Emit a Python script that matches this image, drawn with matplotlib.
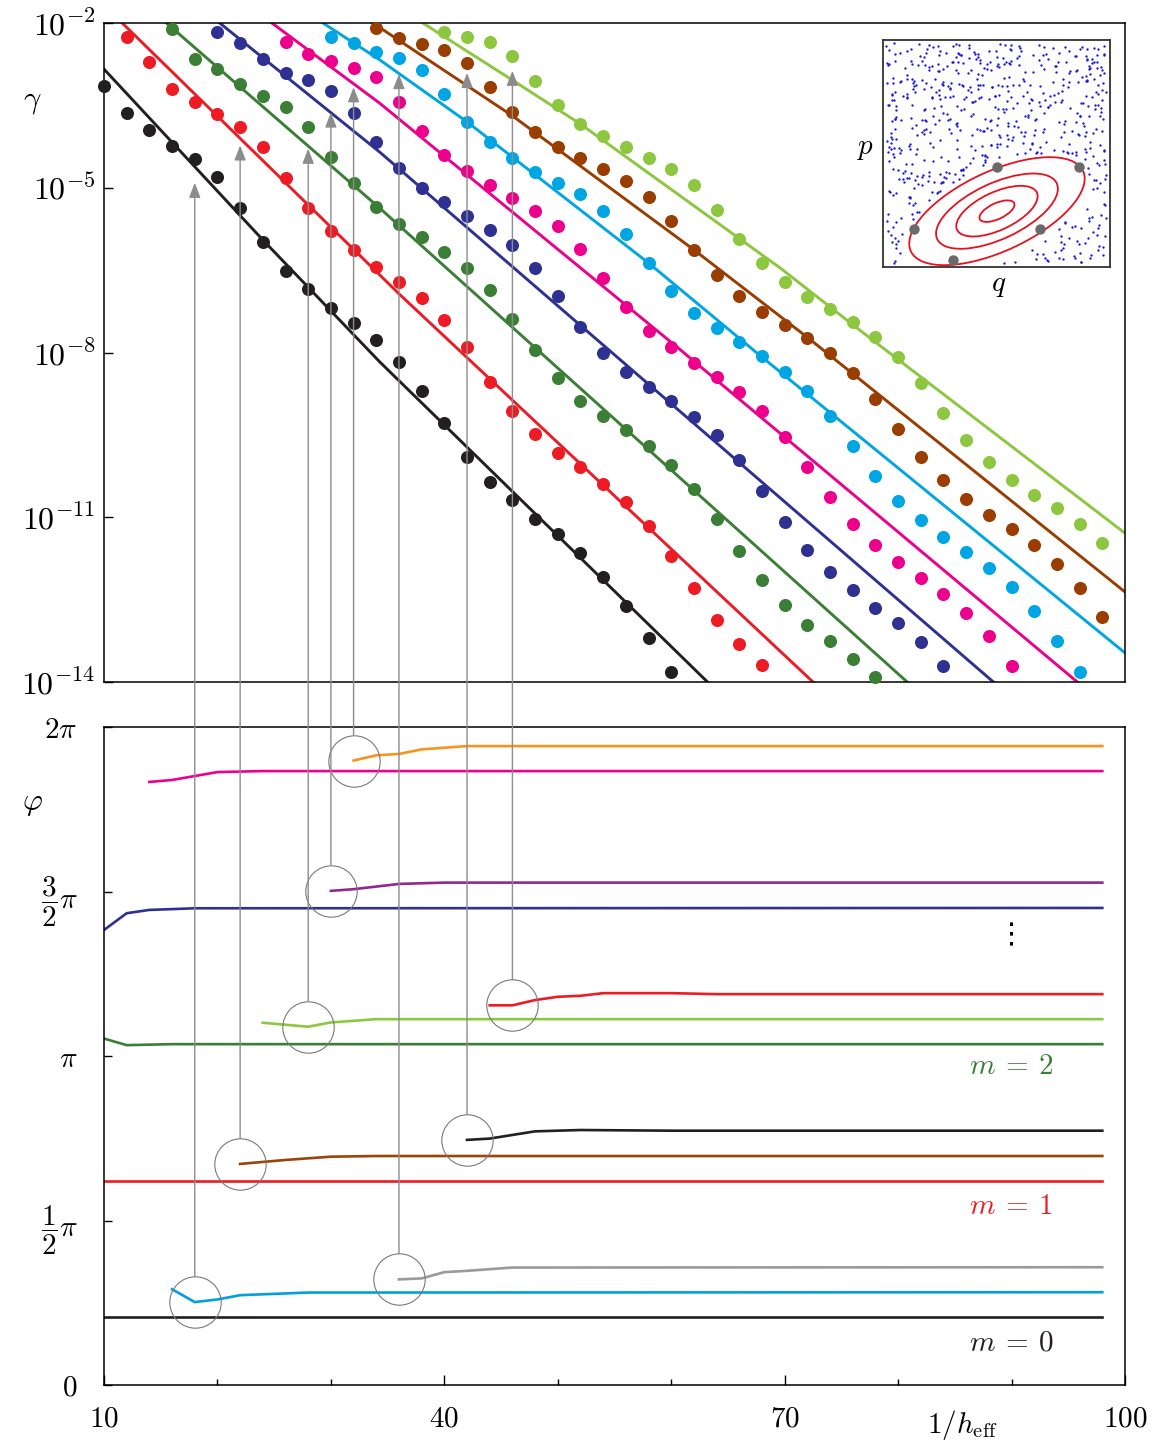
"""
Decay rates gamma and phases phi of the tunnelling states vs 1/h_eff.
Top: log-scale gamma (dots = numerics, lines = prediction) with a phase-space inset.
Bottom: phase phi of each family, arrows linking the onset of a branch to its rate curve.
"""

import numpy as np
import matplotlib
matplotlib.use("Agg")
import matplotlib.pyplot as plt
from matplotlib.patches import Ellipse, ConnectionPatch

plt.rcParams["mathtext.fontset"] = "cm"
plt.rcParams["font.family"] = "serif"
plt.rcParams["font.serif"] = ["DejaVu Serif"]

FS = 21

# --------------------------------------------------------------------------
# Top panel data: log10(gamma) of the dots, every 2 units of 1/h_eff
# --------------------------------------------------------------------------
DOT_X_BLACK = np.arange(10, 61, 2)
GAMMA_BLACK = [-3.15, -3.64, -3.95, -4.24, -4.48, -4.80, -5.37, -5.99, -6.52, -6.84,
               -7.19, -7.46, -7.77, -8.17, -8.70, -9.28, -9.90, -10.36, -10.69, -11.03,
               -11.30, -11.65, -12.09, -12.62, -13.20, -13.82]
DOT_X_RED = np.arange(12, 69, 2)
GAMMA_RED = [-2.25, -2.71, -3.20, -3.44, -3.66, -3.89, -4.26, -4.82, -5.37, -5.79,
             -6.13, -6.44, -6.72, -7.01, -7.41, -7.90, -8.54, -9.07, -9.48, -9.83,
             -10.08, -10.39, -10.72, -11.16, -11.71, -12.29, -12.87, -13.31, -13.69]
DOT_X_GREEN = np.arange(16, 79, 2)
GAMMA_GREEN = [-2.11, -2.66, -2.84, -3.11, -3.33, -3.53, -3.89, -4.44, -4.91, -5.35,
               -5.66, -5.90, -6.17, -6.46, -6.86, -7.39, -7.95, -8.46, -8.88, -9.16,
               -9.41, -9.70, -10.05, -10.49, -11.03, -11.61, -12.14, -12.60, -12.96,
               -13.25, -13.58, -13.91]
DOT_X_NAVY = np.arange(20, 85, 2)
GAMMA_NAVY = [-2.16, -2.36, -2.66, -2.91, -3.04, -3.24, -3.64, -4.17, -4.64, -5.00,
              -5.26, -5.51, -5.77, -6.04, -6.46, -6.97, -7.54, -8.01, -8.35, -8.63,
              -8.88, -9.17, -9.50, -9.96, -10.52, -11.09, -11.60, -12.00, -12.32,
              -12.65, -12.93, -13.27, -13.71]
DOT_X_MAGENTA = np.arange(26, 91, 2)
GAMMA_MAGENTA = [-2.35, -2.56, -2.69, -2.82, -2.98, -3.44, -3.97, -4.40, -4.69, -4.95,
                 -5.19, -5.42, -5.70, -6.12, -6.64, -7.17, -7.61, -7.90, -8.19, -8.45,
                 -8.72, -9.07, -9.54, -10.08, -10.63, -11.12, -11.50, -11.81, -12.11,
                 -12.40, -12.74, -13.16, -13.71]
DOT_X_CYAN = np.arange(30, 97, 2)
GAMMA_CYAN = [-2.25, -2.36, -2.53, -2.64, -2.86, -3.29, -3.80, -4.17, -4.46, -4.71,
              -4.91, -5.11, -5.42, -5.84, -6.37, -6.88, -7.28, -7.55, -7.81, -8.06,
              -8.35, -8.70, -9.16, -9.70, -10.25, -10.70, -11.05, -11.36, -11.63,
              -11.92, -12.27, -12.71, -13.25, -13.82]
DOT_X_BROWN = np.arange(34, 99, 2)
GAMMA_BROWN = [-2.09, -2.27, -2.38, -2.49, -2.73, -3.17, -3.62, -3.98, -4.26, -4.46,
               -4.66, -4.88, -5.17, -5.61, -6.13, -6.59, -6.97, -7.26, -7.50, -7.74,
               -8.01, -8.37, -8.85, -9.39, -9.90, -10.32, -10.67, -10.96, -11.21,
               -11.50, -11.85, -12.29, -12.82]
DOT_X_LIME = np.arange(40, 99, 2)
GAMMA_LIME = [-2.16, -2.25, -2.35, -2.60, -3.06, -3.49, -3.84, -4.06, -4.26, -4.46,
              -4.66, -4.95, -5.40, -5.93, -6.37, -6.72, -6.99, -7.21, -7.44, -7.72,
              -8.08, -8.56, -9.10, -9.59, -9.99, -10.32, -10.59, -10.83, -11.12, -11.47]

# prediction curves (knots, log10 gamma)
LINE_X_BLACK = [10.0, 24.0, 34.3, 63.2]
LINE_BLACK = [-2.84, -5.95, -8.17, -14.0]
LINE_X_RED = [11.6, 36.1, 72.5]
LINE_RED = [-2.0, -6.95, -14.0]
LINE_X_GREEN = [15.5, 34.3, 80.8]
LINE_GREEN = [-2.0, -5.37, -14.0]
LINE_X_NAVY = [20.2, 34.3, 88.4]
LINE_NAVY = [-2.0, -4.35, -14.0]
LINE_X_MAGENTA = [24.8, 34.3, 60.8, 95.8]
LINE_MAGENTA = [-2.0, -3.46, -7.95, -14.0]
LINE_X_CYAN = [29.3, 34.3, 42.0, 58.0, 67.8, 100.0]
LINE_CYAN = [-2.0, -2.67, -3.80, -6.37, -8.05, -13.47]
LINE_X_BROWN = [33.7, 46.0, 62.0, 72.1, 100.0]
LINE_BROWN = [-2.0, -3.69, -6.13, -7.74, -12.36]
LINE_X_LIME = [38.1, 46.0, 52.0, 69.6, 76.6, 100.0]
LINE_LIME = [-2.0, -3.04, -3.84, -6.46, -7.59, -11.29]

TOP_COLORS = ["#231f20", "#ed1c24", "#3a7f35", "#2e3192",
              "#ec008c", "#00a5e3", "#993d00", "#8dc63f"]

# --------------------------------------------------------------------------
# Bottom panel data: phi / pi
# --------------------------------------------------------------------------
PHI_X_M0 = [10, 98]
PHI_M0 = [0.206, 0.206]
PHI_X_CYAN = [16, 18, 20, 22, 28, 98]
PHI_CYAN = [0.291, 0.252, 0.260, 0.273, 0.281, 0.282]
PHI_X_GRAY = [36, 38, 40, 42, 46, 98]
PHI_GRAY = [0.321, 0.324, 0.343, 0.347, 0.357, 0.358]
PHI_X_M1 = [10, 98]
PHI_M1 = [0.620, 0.620]
PHI_X_BROWN = [22, 26, 30, 34, 98]
PHI_BROWN = [0.672, 0.684, 0.694, 0.696, 0.696]
PHI_X_BLACK2 = [42, 44, 48, 52, 60, 98]
PHI_BLACK2 = [0.745, 0.749, 0.771, 0.775, 0.773, 0.773]
PHI_X_M2 = [10, 12, 16, 98]
PHI_M2 = [1.053, 1.033, 1.036, 1.036]
PHI_X_LIME = [24, 28, 30, 34, 98]
PHI_LIME = [1.101, 1.089, 1.102, 1.112, 1.112]
PHI_X_RED2 = [44, 46, 48, 50, 52, 54, 60, 64, 98]
PHI_RED2 = [1.154, 1.154, 1.170, 1.180, 1.183, 1.191, 1.191, 1.188, 1.188]
PHI_X_NAVY = [10, 12, 14, 18, 98]
PHI_NAVY = [1.383, 1.434, 1.444, 1.449, 1.450]
PHI_X_PURPLE = [30, 32, 36, 40, 98]
PHI_PURPLE = [1.502, 1.507, 1.523, 1.527, 1.527]
PHI_X_MAGENTA = [14, 16, 20, 24, 98]
PHI_MAGENTA = [1.833, 1.839, 1.863, 1.866, 1.866]
PHI_X_ORANGE = [32, 34, 36, 38, 42, 98]
PHI_ORANGE = [1.898, 1.914, 1.918, 1.932, 1.942, 1.942]

# arrows: x, phi/pi at the circle, log10 gamma at the tip
ARROW_X = [18, 22, 28, 30, 32, 36, 42, 46]
ARROW_PHI = [0.252, 0.672, 1.089, 1.502, 1.898, 0.321, 0.745, 1.154]
ARROW_TIP = [-4.91, -4.23, -4.29, -3.63, -3.17, -2.93, -2.91, -2.87]

# inset: regular island (ellipses) and the gray periodic-orbit points
ISLAND_CENTER = (0.502, 0.246)
ISLAND_WIDTH = [0.837, 0.581, 0.388, 0.167]
ISLAND_HEIGHT = [0.351, 0.246, 0.167, 0.070]
ISLAND_ANGLE = 25
ORBIT_Q = [0.502, 0.863, 0.137, 0.692, 0.308]
ORBIT_P = [0.439, 0.439, 0.167, 0.167, 0.031]

W, H = 1153, 1443


def frac_box(x0, y0, x1, y1):
    """Pixel box (top-left origin) -> figure fraction rect."""
    return [x0 / W, 1 - y1 / H, (x1 - x0) / W, (y1 - y0) / H]


def chaotic_sea(n, k=6.0, q=0.31, p=0.71):
    """Orbit of the standard map, folded into the unit square."""
    pts = np.empty((n, 2))
    for i in range(n):
        p = (p + k * np.sin(2 * np.pi * q) / (2 * np.pi)) % 1.0
        q = (q + p) % 1.0
        pts[i] = q, p
    return pts


def style_spines(ax):
    for s in ax.spines.values():
        s.set_linewidth(1.1)
        s.set_color("black")


fig = plt.figure(figsize=(W / 100, H / 100), dpi=100)

# ---------------- top panel ----------------
ax = fig.add_axes(frac_box(104, 23, 1125, 682))
ax.set_yscale("log")
dots = [(DOT_X_BLACK, GAMMA_BLACK), (DOT_X_RED, GAMMA_RED), (DOT_X_GREEN, GAMMA_GREEN),
        (DOT_X_NAVY, GAMMA_NAVY), (DOT_X_MAGENTA, GAMMA_MAGENTA), (DOT_X_CYAN, GAMMA_CYAN),
        (DOT_X_BROWN, GAMMA_BROWN), (DOT_X_LIME, GAMMA_LIME)]
lines = [(LINE_X_BLACK, LINE_BLACK), (LINE_X_RED, LINE_RED), (LINE_X_GREEN, LINE_GREEN),
         (LINE_X_NAVY, LINE_NAVY), (LINE_X_MAGENTA, LINE_MAGENTA), (LINE_X_CYAN, LINE_CYAN),
         (LINE_X_BROWN, LINE_BROWN), (LINE_X_LIME, LINE_LIME)]
for (dx, dg), (lx, lg), col in zip(dots, lines, TOP_COLORS):
    ax.plot(lx, 10.0 ** np.asarray(lg), color=col, lw=2.1, zorder=2)
    ax.plot(dx, 10.0 ** np.asarray(dg), "o", color=col, ms=9.4, mew=0,
            zorder=3, clip_on=False)
ax.set_xlim(10, 100)
ax.set_ylim(1e-14, 1e-2)
ax.set_yticks([1e-2, 1e-5, 1e-8, 1e-11, 1e-14])
ax.set_yticklabels([r"$10^{-2}$", r"$10^{-5}$", r"$10^{-8}$", r"$10^{-11}$", r"$10^{-14}$"])
ax.yaxis.set_minor_locator(matplotlib.ticker.NullLocator())
ax.tick_params(axis="y", direction="in", length=6.5, width=1.0, labelsize=FS + 2, pad=6)
ax.tick_params(axis="x", length=0, labelbottom=False)
ax.xaxis.set_minor_locator(matplotlib.ticker.NullLocator())
style_spines(ax)
ax_top = ax

# inset
ins = fig.add_axes(frac_box(883, 40, 1110, 267))
sea = chaotic_sea(820)
sea = 0.015 + 0.97 * sea
cx, cy = ISLAND_CENTER
th = np.deg2rad(ISLAND_ANGLE)
u = (sea[:, 0] - cx) * np.cos(th) + (sea[:, 1] - cy) * np.sin(th)
v = -(sea[:, 0] - cx) * np.sin(th) + (sea[:, 1] - cy) * np.cos(th)
outside = (u / (ISLAND_WIDTH[0] / 2 + 0.02)) ** 2 + (v / (ISLAND_HEIGHT[0] / 2 + 0.02)) ** 2 > 1
ins.plot(sea[outside, 0], sea[outside, 1], ".", color="#1a1ad6", ms=3.4, mew=0)
for w, h in zip(ISLAND_WIDTH, ISLAND_HEIGHT):
    ins.add_patch(Ellipse(ISLAND_CENTER, w, h, angle=ISLAND_ANGLE, fill=False,
                          ec="#e8101e", lw=1.3))
ins.plot(ORBIT_Q, ORBIT_P, "o", color="#6a6a6a", ms=7.5, mew=0, zorder=4)
ins.set_xlim(0, 1)
ins.set_ylim(0, 1)
ins.set_xticks([])
ins.set_yticks([])
for s in ins.spines.values():
    s.set_linewidth(1.3)
    s.set_color("#333333")
fig.text(865 / W, 1 - 148 / H, r"$p$", fontsize=FS, ha="center", va="center")
fig.text(999 / W, 1 - 285 / H, r"$q$", fontsize=FS, ha="center", va="center")

# ---------------- bottom panel ----------------
ax = fig.add_axes(frac_box(104, 727, 1125, 1385))
phase = [(PHI_X_M0, PHI_M0, "#231f20"), (PHI_X_CYAN, PHI_CYAN, "#00a0e0"),
         (PHI_X_GRAY, PHI_GRAY, "#9a9a9c"), (PHI_X_M1, PHI_M1, "#ed1c24"),
         (PHI_X_BROWN, PHI_BROWN, "#9a4408"), (PHI_X_BLACK2, PHI_BLACK2, "#231f20"),
         (PHI_X_M2, PHI_M2, "#3a7f35"), (PHI_X_LIME, PHI_LIME, "#8dc63f"),
         (PHI_X_RED2, PHI_RED2, "#ed1c24"), (PHI_X_NAVY, PHI_NAVY, "#2e3192"),
         (PHI_X_PURPLE, PHI_PURPLE, "#92278f"), (PHI_X_MAGENTA, PHI_MAGENTA, "#ec008c"),
         (PHI_X_ORANGE, PHI_ORANGE, "#f7941d")]
for px, py, col in phase:
    ax.plot(px, np.pi * np.asarray(py), color=col, lw=1.9, zorder=2)

ax.plot(ARROW_X, np.pi * np.asarray(ARROW_PHI), "o", ms=37, mfc="none",
        mec="#7a7a7a", mew=0.8, zorder=3)

ax.set_xlim(10, 100)
ax.set_ylim(0, 2 * np.pi)
ax.set_xticks([10, 40, 70, 100])
ax.set_xticklabels([r"$10$", r"$40$", r"$70$", r"$100$"])
ax.set_xticks([20, 30, 50, 60, 80, 90], minor=True)
ax.set_yticks([0, np.pi / 2, np.pi, 1.5 * np.pi, 2 * np.pi])
ax.set_yticklabels([r"$0$", r"$\dfrac{1}{2}\pi$", r"$\pi$", r"$\dfrac{3}{2}\pi$", r"$2\pi$"])
ax.tick_params(axis="x", which="major", direction="in", length=7, width=1.0,
               labelsize=FS, pad=14)
ax.tick_params(axis="x", which="minor", direction="in", length=4.5, width=1.0)
ax.tick_params(axis="y", direction="in", length=6, width=1.0, labelsize=FS, pad=19)
style_spines(ax)
ax_bot = ax

ax.text(90, 0.128 * np.pi, r"$m\:=\:0$", color="#231f20", fontsize=FS,
        ha="center", va="center")
ax.text(90, 0.544 * np.pi, r"$m\:=\:1$", color="#ed1c24", fontsize=FS,
        ha="center", va="center")
ax.text(90, 0.970 * np.pi, r"$m\:=\:2$", color="#3a7f35", fontsize=FS,
        ha="center", va="center")
ax.text(90, 1.368 * np.pi, "\u22ee", color="black", fontsize=FS, ha="center", va="center",
        family="DejaVu Sans")

# arrows from the onset circles up to the rate curves
for x, ph, tip in zip(ARROW_X, ARROW_PHI, ARROW_TIP):
    con = ConnectionPatch(xyA=(x, np.pi * ph), coordsA=ax_bot.transData,
                          xyB=(x, 10.0 ** tip), coordsB=ax_top.transData,
                          arrowstyle="-|>,head_length=0.9,head_width=0.35",
                          mutation_scale=10, shrinkA=18.4, shrinkB=0,
                          color="#8c8c8c", lw=1.0, zorder=5)
    fig.add_artist(con)

fig.text(32 / W, 1 - 100 / H, r"$\gamma$", fontsize=FS + 1, ha="center", va="center")
fig.text(32 / W, 1 - 803 / H, r"$\varphi$", fontsize=FS + 1, ha="center", va="center")
fig.text(962 / W, 1 - 1425 / H, r"$1/h_{\mathrm{eff}}$", fontsize=FS,
         ha="center", va="center")

fig.savefig("out.png", dpi=100)
plt.close(fig)
